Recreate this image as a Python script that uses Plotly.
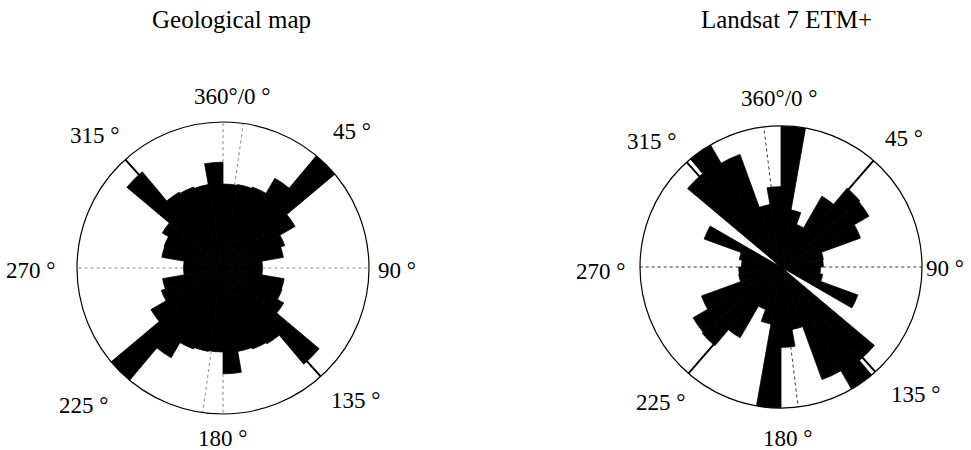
import plotly.graph_objects as go

# Axial orientation data: 10-degree bins from 0 to 180 (values in % of the outer ring),
# mirrored through the centre to give the full rose.
bin_starts = list(range(0, 180, 10))
geo_values = [57.5, 58, 59, 71, 100, 57, 45, 42, 27, 27, 42.5, 43, 48, 86, 60, 59, 58, 72.5]
etm_values = [100, 41, 32, 58, 73, 72, 60, 30.5, 30, 28, 30, 58, 0, 86.5, 100, 85, 45, 57]

panel_titles = ["Geological map", "Landsat 7 ETM+"]
direction_labels = ["360°/0 °", "45 °", "90 °", "135 °", "180 °", "225 °", "270 °", "315 °"]

# orientation of the mean-direction (dotted) line and of the two diagonal guides
mean_dir = [8, 353]
diag_a = [40, 41]
diag_b = [318, 318]

FONT = "Liberation Serif, Times New Roman, serif"

fig = go.Figure()


def rose_length(values, angle):
    """Length of the rose at a given azimuth (largest bar touching it)."""
    a = angle % 180
    best = 0
    for b, v in zip(bin_starts, values):
        if b - 1e-9 <= a <= b + 10 + 1e-9 or (a < 1e-9 and b == 170):
            best = max(best, v)
    return best


def dotted(polar, values, angle, outer, color):
    r0 = rose_length(values, angle)
    fig.add_trace(go.Scatterpolar(r=[r0, outer], theta=[angle, angle], mode="lines",
                                  subplot=polar,
                                  line=dict(color=color, width=1, dash="dot"),
                                  cliponaxis=False, hoverinfo="skip"))


def rose(polar, values, mean_angle, da, db, dot_color, ext):
    theta = [b + 5 for b in bin_starts] + [b + 185 for b in bin_starts]
    r = list(values) + list(values)
    fig.add_trace(go.Barpolar(r=r, theta=theta, width=[10] * len(theta), subplot=polar,
                              marker=dict(color="black", line=dict(color="black", width=0.8)),
                              hoverinfo="skip"))
    # dotted N-S / E-W reference lines and mean direction, outside the rose
    for ang, outer in zip([0, 90, 180, 270, mean_angle, mean_angle + 180], ext):
        dotted(polar, values, ang, outer, dot_color)
    # solid diagonal guide lines
    for a in (da, db):
        fig.add_trace(go.Scatterpolar(r=[111, 0, 111], theta=[a, a, a + 180], mode="lines",
                                      subplot=polar, line=dict(color="black", width=2),
                                      cliponaxis=False, hoverinfo="skip"))


rose("polar", geo_values, mean_dir[0], diag_a[0], diag_b[0], "#8a8a8a",
     [107, 106, 100, 116, 100, 100])
rose("polar2", etm_values, mean_dir[1], diag_a[1], diag_b[1], "#333333",
     [106, 102, 102, 110, 104, 101])

W, H = 971, 450


def polar_layout(x0, x1, y0, y1):
    return dict(
        domain=dict(x=[x0 / W, x1 / W], y=[1 - y1 / H, 1 - y0 / H]),
        bgcolor="white",
        hole=0,
        bargap=0,
        radialaxis=dict(range=[0, 100], visible=False),
        angularaxis=dict(rotation=90, direction="clockwise", showgrid=False,
                         showticklabels=False, ticks="", showline=True,
                         linecolor="black", linewidth=1.2),
    )


layout_polar = polar_layout(77, 369, 122, 414)
layout_polar2 = polar_layout(640, 922, 126, 408)

# label positions (pixel coordinates of text centres) for each rose
label_pos = [
    [(232, 96), (352, 131), (397, 270), (355, 400), (222, 438), (83, 405), (30, 270), (94, 136)],
    [(779, 99), (904, 138), (945, 268), (915, 394), (787, 438), (660, 402), (600, 271), (651, 141)],
]
title_pos = [(231, 20), (786, 20)]

annotations = []
for panel in range(2):
    tx, ty = title_pos[panel]
    annotations.append(dict(x=tx / W, y=1 - ty / H, xref="paper", yref="paper",
                            text=panel_titles[panel], showarrow=False,
                            xanchor="center", yanchor="middle",
                            font=dict(family=FONT, size=25, color="black")))
    for lab, (lx, ly) in zip(direction_labels, label_pos[panel]):
        annotations.append(dict(x=lx / W, y=1 - ly / H, xref="paper", yref="paper",
                                text=lab, showarrow=False,
                                xanchor="center", yanchor="middle",
                                font=dict(family=FONT, size=23, color="black")))

fig.update_layout(
    width=W, height=H,
    margin=dict(l=0, r=0, t=0, b=0),
    paper_bgcolor="white",
    plot_bgcolor="white",
    showlegend=False,
    polar=layout_polar,
    polar2=layout_polar2,
    annotations=annotations,
)

fig.write_html("out.html")
